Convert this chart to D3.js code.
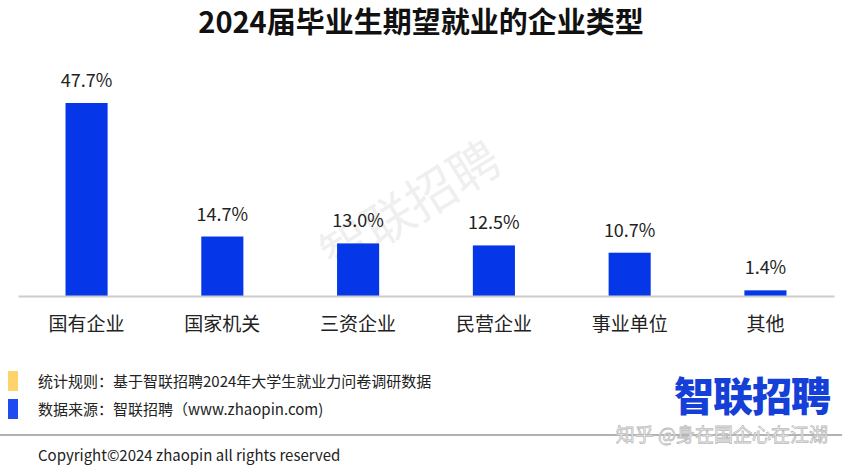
<!DOCTYPE html>
<html><head><meta charset="utf-8">
<script src="https://cdn.jsdelivr.net/npm/d3@7"></script>
<style>body{margin:0;background:#fff}svg{display:block}text{font-family:"Noto Sans CJK SC","Noto Sans",sans-serif}</style>
</head><body><svg id="c" width="842" height="469"></svg>
<script>
const categories=["国有企业","国家机关","三资企业","民营企业","事业单位","其他"];
const values=[47.7,14.7,13.0,12.5,10.7,1.4];
const svg=d3.select("#c");
const blue="#0536e8";
svg.append("text").attr("x",421).attr("y",33).attr("text-anchor","middle").attr("font-size",29).attr("font-weight",700).attr("fill","#111").text("2024届毕业生期望就业的企业类型");
svg.append("text").attr("transform","translate(420,222) rotate(-32)").attr("text-anchor","middle").attr("font-size",50).attr("font-weight",400).attr("fill","#000").attr("opacity",0.06).text("智联招聘");
const x=d3.scaleBand().domain(categories).range([18,834]).paddingInner(0.69).paddingOuter(0.35);
const y=d3.scaleLinear().domain([0,47.7]).range([296,103]);
svg.selectAll("rect.b").data(values).join("rect").attr("class","b")
 .attr("x",(d,i)=>x(categories[i])).attr("width",x.bandwidth())
 .attr("y",d=>y(d)).attr("height",d=>296-y(d)).attr("fill",blue);
svg.selectAll("text.v").data(values).join("text").attr("class","v")
 .attr("x",(d,i)=>x(categories[i])+x.bandwidth()/2).attr("y",d=>y(d)-16)
 .attr("text-anchor","middle").attr("font-size",18).attr("fill","#222").attr("font-family","Roboto, sans-serif").text(d=>d.toFixed(1)+"%");
const ax=svg.append("g").attr("transform","translate(0,296)").call(d3.axisBottom(x).tickSize(0).tickPadding(22));
ax.select(".domain").attr("stroke","#ccc").attr("stroke-width",2);
ax.selectAll("text").attr("font-size",19).attr("fill","#222").attr("font-family","Noto Sans CJK SC");
svg.append("rect").attr("x",8).attr("y",371).attr("width",10).attr("height",20).attr("fill","#fdd46a");
svg.append("rect").attr("x",8).attr("y",399).attr("width",10).attr("height",20).attr("fill","#1e4cf0");
svg.append("text").attr("x",38).attr("y",387).attr("font-size",15).attr("fill","#222").text("统计规则：基于智联招聘2024年大学生就业力问卷调研数据");
svg.append("text").attr("x",38).attr("y",415).attr("font-size",15).attr("fill","#222").text("数据来源：智联招聘（www.zhaopin.com)");
svg.append("text").attr("x",830).attr("y",411).attr("text-anchor","end").attr("font-size",40).attr("font-weight",900).attr("fill","#1440d8").attr("letter-spacing",-1).text("智联招聘");
svg.append("line").attr("x1",0).attr("x2",842).attr("y1",435).attr("y2",435).attr("stroke","#666").attr("stroke-width",1.2);
svg.append("text").attr("x",828).attr("y",442).attr("text-anchor","end").attr("font-size",19).attr("fill","#fff").attr("stroke","#bbb").attr("stroke-width",0.8).text("知乎 @身在国企心在江湖");
svg.append("text").attr("x",38).attr("y",461).attr("font-size",15).attr("fill","#222").text("Copyright©2024 zhaopin all rights reserved");
</script></body></html>
